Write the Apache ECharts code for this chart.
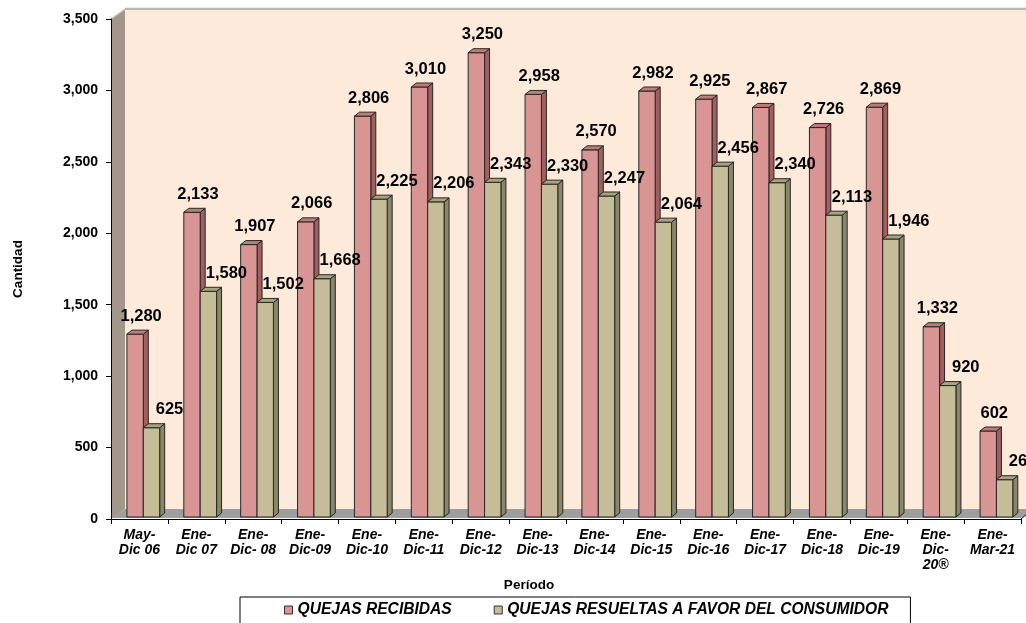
<!DOCTYPE html>
<html><head><meta charset="utf-8">
<script src="https://cdn.jsdelivr.net/npm/echarts@6/dist/echarts.min.js"></script>
<style>html,body{margin:0;padding:0;background:#fff}#c{width:1026px;height:623px}</style>
</head><body><div id="c"></div>
<script>
const categories = ['May-\nDic 06','Ene-\nDic 07','Ene-\nDic- 08','Ene-\nDic-09','Ene-\nDic-10','Ene-\nDic-11','Ene-\nDic-12','Ene-\nDic-13','Ene-\nDic-14','Ene-\nDic-15','Ene-\nDic-16','Ene-\nDic-17','Ene-\nDic-18','Ene-\nDic-19','Ene-\nDic-\n20®','Ene-\nMar-21'];
const recibidas = [1280, 2133, 1907, 2066, 2806, 3010, 3250, 2958, 2570, 2982, 2925, 2867, 2726, 2869, 1332, 602];
const resueltas = [625, 1580, 1502, 1668, 2225, 2206, 2343, 2330, 2247, 2064, 2456, 2340, 2113, 1946, 920, 261];
const yTicks = [0, 500, 1000, 1500, 2000, 2500, 3000, 3500];
const seriesNames = ['QUEJAS RECIBIDAS', 'QUEJAS RESUELTAS A FAVOR DEL CONSUMIDOR'];

const fmt = v => Number(v).toLocaleString('en-US');
const FONT = 'Arial, "Liberation Sans", sans-serif';
const DX = 5, DY = 4, LIFT = 2;

function barRender(idx, front, side, top, labelDx) {
  return function (params, api) {
    const cat = api.value(0), val = api.value(1);
    const base = api.coord([cat, 0]);
    const tp = api.coord([cat, val]);
    const w = api.size([1, 0])[0];
    const bw = w * 0.288;
    const x0 = base[0] - w * 0.22 + idx * bw;
    const x1 = x0 + bw;
    const yb = base[1] - LIFT, yt = tp[1] - LIFT;
    const st = { stroke: '#262626', lineWidth: 1 };
    return {
      type: 'group',
      children: [
        { type: 'polygon', shape: { points: [[x1, yt], [x1 + DX, yt - DY], [x1 + DX, yb - DY], [x1, yb]] }, style: Object.assign({ fill: side }, st) },
        { type: 'rect', shape: { x: x0, y: yt, width: bw, height: yb - yt }, style: Object.assign({ fill: front }, st) },
        { type: 'polygon', shape: { points: [[x0, yt], [x0 + DX, yt - DY], [x1 + DX, yt - DY], [x1, yt]] }, style: Object.assign({ fill: top }, st) },
        { type: 'text', z2: 100, style: { x: (x0 + x1) / 2 + labelDx, y: yt - 18, text: fmt(val), fill: '#000', font: 'bold 16.5px ' + FONT, align: 'center', verticalAlign: 'middle' } }
      ]
    };
  };
}

function wallRender(params, api) {
  const cs = params.coordSys;
  const l = cs.x, t = cs.y, r = cs.x + cs.width, b = cs.y + cs.height;
  const ox = 14, oy = 10;
  return {
    type: 'group',
    children: [
      { type: 'rect', shape: { x: l + ox, y: t - oy, width: r - l + 20, height: b - t }, style: { fill: '#FDEADA' } },
      { type: 'line', shape: { x1: l + ox, y1: t - oy - 1, x2: r + 30, y2: t - oy - 1 }, style: { stroke: '#D4D4D4', lineWidth: 1 } },
      { type: 'line', shape: { x1: l + ox, y1: t - oy, x2: r + 30, y2: t - oy }, style: { stroke: '#A6A6A6', lineWidth: 1.5 } },
      { type: 'polygon', shape: { points: [[l, t], [l + ox, t - oy], [l + ox, b - oy], [l, b]] }, style: { fill: '#A3978C' } },
      { type: 'line', shape: { x1: l, y1: t, x2: l + ox, y2: t - oy }, style: { stroke: '#C8C8C8', lineWidth: 1.5 } },
      { type: 'polygon', shape: { points: [[l, b - LIFT + 1], [l + ox, b - oy], [r + ox, b - oy], [r, b - LIFT + 1]] }, style: { fill: '#9E9E9E' } },
      { type: 'line', shape: { x1: r, y1: b, x2: r + 6, y2: b - 5 }, style: { stroke: '#000', lineWidth: 1 } }
    ]
  };
}

const chart = echarts.init(document.getElementById('c'), null, { renderer: 'canvas' });
chart.setOption({
  animation: false,
  backgroundColor: '#fff',
  grid: { left: 111, right: 5, top: 19, bottom: 104, containLabel: false },
  legend: {
    left: 240, top: 597,
    padding: [5, 22, 12, 44],
    itemGap: 42, itemWidth: 8, itemHeight: 8,
    borderColor: '#000', borderWidth: 1,
    icon: 'rect',
    textStyle: { fontFamily: FONT, fontWeight: 'bold', fontStyle: 'italic', fontSize: 15.6, color: '#000' },
    data: [
      { name: seriesNames[0], itemStyle: { color: '#D99594', borderColor: '#333', borderWidth: 1 } },
      { name: seriesNames[1], itemStyle: { color: '#C4BD97', borderColor: '#333', borderWidth: 1 } }
    ]
  },
  xAxis: {
    type: 'category', data: categories, boundaryGap: true,
    name: 'Período', nameLocation: 'middle', nameGap: 56,
    nameTextStyle: { fontFamily: FONT, fontWeight: 'bold', fontSize: 13.5, color: '#000', padding: [0, 74, 0, 0] },
    axisLine: { show: true, lineStyle: { color: '#000', width: 1 } },
    axisTick: { show: true, interval: 0, length: 5, lineStyle: { color: '#000' } },
    axisLabel: { interval: 0, margin: 9, color: '#000', fontFamily: FONT, fontWeight: 'bold', fontStyle: 'italic', fontSize: 14, lineHeight: 15 },
    splitLine: { show: false }
  },
  yAxis: {
    type: 'value', min: yTicks[0], max: yTicks[yTicks.length - 1], interval: yTicks[1] - yTicks[0],
    name: 'Cantidad', nameLocation: 'middle', nameGap: 86,
    nameTextStyle: { fontFamily: FONT, fontWeight: 'bold', fontSize: 13.5, color: '#000' },
    axisLine: { show: true, lineStyle: { color: '#000', width: 1 } },
    axisTick: { show: true, length: 5, lineStyle: { color: '#000' } },
    axisLabel: { margin: 13, color: '#000', fontFamily: FONT, fontWeight: 'bold', fontSize: 14, formatter: v => fmt(v) },
    splitLine: { show: false }
  },
  series: [
    { type: 'custom', name: '_walls', z: -1, silent: true, renderItem: wallRender, data: [[0, 0]], encode: { x: 0, y: 1 } },
    { type: 'custom', name: seriesNames[0], itemStyle: { color: '#D99594' }, renderItem: barRender(0, '#D99594', '#A0605F', '#BD7B7A', 6),
      data: recibidas.map((v, i) => [i, v]), encode: { x: 0, y: 1 } },
    { type: 'custom', name: seriesNames[1], itemStyle: { color: '#C4BD97' }, renderItem: barRender(1, '#C4BD97', '#8A8668', '#A9A27E', 18),
      data: resueltas.map((v, i) => [i, v]), encode: { x: 0, y: 1 } }
  ]
});
</script></body></html>
